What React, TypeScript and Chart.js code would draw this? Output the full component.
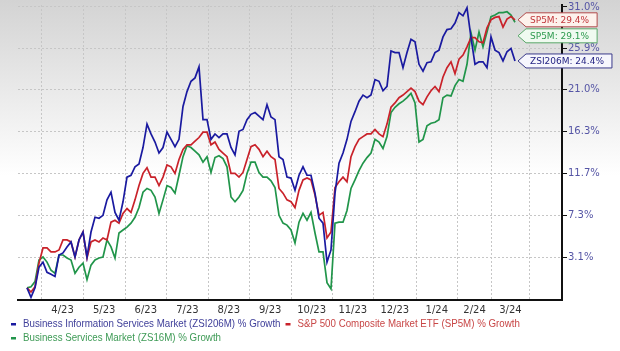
import React, { useEffect, useRef } from "react";
import { Chart, registerables } from "chart.js";

Chart.register(...registerables);

// ---- data (percent growth) ----
const seriesNames = [
  "Business Information Services Market (ZSI206M) % Growth",
  "S&P 500 Composite Market ETF (SP5M) % Growth",
  "Business Services Market (ZS16M) % Growth",
];
const calloutNames = ["ZSI206M", "SP5M", "SP5M"];

const blueGrowth = [
  0.1, -0.8, 0.1, 2.1, 2.6, 1.6, 1.4, 1.2, 3.3, 3.5,
  4.1, 4.6, 3.1, 4.8, 5.6, 3.1, 5.6, 7.1, 7.0, 7.3,
  8.9, 9.7, 7.6, 6.8, 8.7, 11.3, 11.5, 12.4, 12.7,
  14.5, 17.1, 16.0, 15.1, 13.9, 14.5, 16.2, 15.4, 14.6, 15.4,
  19.1, 20.8, 22.0, 22.4, 23.7, 17.6, 17.6, 15.4, 16.0, 15.6,
  16.0, 16.0, 14.5, 13.7, 16.3, 16.5, 17.6, 18.2, 18.4, 18.0,
  17.6, 19.3, 17.9, 17.6, 13.5, 13.2, 11.3, 11.2, 9.9, 11.5,
  12.4, 11.5, 11.5, 9.6, 7.0, 6.5, 2.6, 3.8, 9.6, 12.8,
  13.9, 15.4, 17.4, 18.5, 19.7, 20.4, 20.1, 20.4, 22.2, 22.0,
  20.9, 21.4, 25.6, 25.4, 25.4, 23.6, 25.4, 27.0, 26.7, 24.0,
  23.2, 24.2, 24.3, 25.4, 25.7, 27.3, 28.2, 28.3, 29.0, 30.3,
  29.9, 30.9, 27.2, 24.0, 24.3, 24.3, 23.6, 27.3, 25.7, 25.4,
  24.4, 25.5, 25.9, 24.4,
];

const redGrowth = [
  0.1, -0.3, 0.2, 2.5, 4.0, 4.0, 3.6, 3.6, 3.8, 4.8,
  4.8, 4.6, 3.1, 4.8, 5.6, 3.0, 4.6, 4.8, 4.6, 5.0,
  4.8, 6.6, 6.8, 6.5, 7.5, 8.0, 7.6, 8.9, 10.4,
  11.7, 12.3, 11.3, 11.3, 10.4, 11.3, 12.6, 12.4, 11.7, 13.2,
  14.3, 14.8, 14.8, 15.2, 15.6, 16.2, 16.2, 14.8, 15.1, 14.3,
  13.9, 13.5, 11.7, 11.7, 11.3, 11.8, 13.2, 14.6, 14.8, 14.3,
  13.5, 14.1, 13.5, 13.2, 10.1, 9.6, 8.9, 8.7, 8.1, 9.9,
  11.0, 11.2, 11.0, 9.4, 7.3, 7.6, 5.0, 5.6, 10.2, 10.8,
  11.3, 10.8, 13.5, 14.6, 15.4, 15.7, 16.0, 16.0, 16.5, 16.0,
  15.7, 17.1, 19.0, 19.5, 20.1, 20.4, 20.8, 21.2, 20.8, 19.7,
  19.3, 20.2, 20.9, 21.4, 20.8, 22.5, 23.6, 24.3, 22.9, 24.6,
  25.1, 26.1, 27.2, 27.2, 26.7, 26.6, 28.4, 29.4, 29.7, 29.8,
  28.5, 29.5, 29.8, 29.4,
];

const greenGrowth = [
  0.1, 0.2, 0.7, 2.8, 3.1, 2.6, 1.8, 1.5, 3.3, 3.3,
  3.0, 2.8, 1.5, 2.1, 2.5, 0.9, 2.3, 2.8, 3.0, 3.1,
  4.8, 4.1, 3.0, 5.5, 5.8, 6.1, 6.5, 7.1, 8.1,
  9.7, 10.1, 9.9, 9.2, 7.5, 8.9, 10.4, 10.2, 9.6, 11.5,
  13.5, 14.7, 14.5, 14.1, 13.7, 12.9, 13.5, 11.8, 13.4, 13.6,
  13.3, 12.4, 9.2, 8.7, 9.2, 9.9, 11.7, 12.9, 12.9, 11.8,
  11.3, 11.3, 10.9, 10.2, 7.3, 6.5, 6.3, 5.8, 4.5, 6.6,
  7.5, 6.8, 7.6, 5.5, 3.6, 3.6, 0.6, 0.0, 6.5, 6.6,
  6.6, 7.8, 10.1, 11.0, 12.0, 12.8, 13.4, 13.9, 15.4, 15.1,
  14.4, 15.7, 18.4, 19.0, 19.4, 19.7, 20.1, 20.6, 19.5, 15.1,
  15.4, 16.9, 17.2, 17.3, 17.6, 20.1, 20.4, 20.3, 21.5, 22.2,
  22.0, 24.0, 27.8, 25.7, 27.9, 26.1, 27.9, 29.8, 30.0, 30.3,
  30.3, 30.4, 30.0, 29.1,
];

const yTickValues = [3.1, 7.3, 11.7, 16.3, 21.0, 25.9, 31.0];
const yAxisMinPct = -1.06;
const yAxisMaxPct = 31.25;

// x is a session index; month boundaries and labels along it
const xAxisMin = -2.25;
const xAxisMax = 133.75;
const monthStarts = [3.7, 14.1, 24.5, 34.9, 45.3, 55.6, 66, 76.3, 86.6, 97.3, 107.6, 116.2, 125.5];
const monthLabels = ["4/23", "5/23", "6/23", "7/23", "8/23", "9/23", "10/23", "11/23", "12/23", "1/24", "2/24", "3/24"];

const lineColors = ["#1a1aa0", "#c9222a", "#21954a"];
const legendTextColors = ["#40409a", "#c84646", "#3d9a55"];
const calloutStyles = [
  { text: "#1e1e80", border: "#3a3a8a", fill: "#f6f6fd" },
  { text: "#c0363a", border: "#b04a4a", fill: "#fdf2ec" },
  { text: "#2e9a4e", border: "#5aa86a", fill: "#f0faf0" },
];

const toFactor = (g: number) => 1 + g / 100;

const bgPlugin = {
  id: "bgGradient",
  beforeDraw(chart: any) {
    const { ctx, width, height } = chart;
    ctx.save();
    const g = ctx.createLinearGradient(0, 0, 0, height);
    g.addColorStop(0, "#d3d3d3");
    g.addColorStop(0.5, "#ffffff");
    g.addColorStop(1, "#ffffff");
    ctx.fillStyle = g;
    ctx.fillRect(0, 0, width, height);
    ctx.restore();
  },
};

const calloutPlugin = {
  id: "callouts",
  afterDatasetsDraw(chart: any) {
    const { ctx } = chart;
    const items: any[] = [];
    chart.data.datasets.forEach((ds: any, i: number) => {
      const meta = chart.getDatasetMeta(i);
      const last = meta.data[meta.data.length - 1];
      const val = ds.data[ds.data.length - 1].y;
      const pct = ((val - 1) * 100).toFixed(1) + "%";
      items.push({ i, x: last.x, y: last.y, text: calloutNames[i] + ": " + pct });
    });
    items.sort((a, b) => a.y - b.y);
    const h = 14;
    let prevBottom = -Infinity;
    ctx.save();
    ctx.font = '9px "DejaVu Sans"';
    ctx.textBaseline = "middle";
    items.forEach((it) => {
      let cy = it.y;
      if (cy - h / 2 < prevBottom + 2) cy = prevBottom + 2 + h / 2;
      prevBottom = cy + h / 2;
      const st = calloutStyles[it.i];
      const px = it.x + 3;
      const left = px + 8;
      const tw = ctx.measureText(it.text).width;
      const right = left + 4 + tw + 8;
      const top = cy - h / 2;
      const bot = cy + h / 2;
      ctx.beginPath();
      ctx.moveTo(px, cy);
      ctx.lineTo(left, top);
      ctx.lineTo(right, top);
      ctx.lineTo(right, bot);
      ctx.lineTo(left, bot);
      ctx.closePath();
      ctx.fillStyle = st.fill;
      ctx.fill();
      ctx.lineWidth = 1;
      ctx.strokeStyle = st.border;
      ctx.stroke();
      ctx.fillStyle = st.text;
      ctx.fillText(it.text, left + 4, cy + 0.5);
    });
    ctx.restore();
  },
};

const legendPlugin = {
  id: "customLegend",
  afterDraw(chart: any) {
    const { ctx } = chart;
    const sx = 0.885; // condensed face
    ctx.save();
    ctx.font = '11px "Liberation Sans", sans-serif';
    ctx.textBaseline = "middle";
    let x = 11;
    let y = 324;
    seriesNames.forEach((name, i) => {
      const tw = ctx.measureText(name).width * sx;
      if (x + 12 + tw > 600) {
        x = 11;
        y += 14;
      }
      ctx.fillStyle = lineColors[i];
      ctx.fillRect(x, y - 1, 5, 2.5);
      ctx.fillStyle = legendTextColors[i];
      ctx.save();
      ctx.translate(x + 12, y);
      ctx.scale(sx, 1);
      ctx.fillText(name, 0, 0);
      ctx.restore();
      x = x + 12 + tw + 5;
    });
    ctx.restore();
  },
};

export default function App() {
  const ref = useRef<HTMLCanvasElement>(null);
  useEffect(() => {
    document.body.style.margin = "0";
    const series = [blueGrowth, redGrowth, greenGrowth];
    const chart = new Chart(ref.current as HTMLCanvasElement, {
      type: "line",
      data: {
        datasets: series.map((vals, i) => ({
          label: seriesNames[i],
          data: vals.map((g, k) => ({ x: k, y: toFactor(g) })),
          borderColor: lineColors[i],
          backgroundColor: lineColors[i],
          borderWidth: 1.7,
          pointRadius: 0,
          tension: 0,
          fill: false,
          xAxisID: "x",
          yAxisID: "y",
        })),
      },
      options: {
        animation: false,
        responsive: false,
        devicePixelRatio: 1,
        layout: { padding: { left: 18, top: 5, right: 0, bottom: 0 } },
        plugins: { legend: { display: false }, tooltip: { enabled: false } },
        scales: {
          x: {
            type: "linear",
            position: "bottom",
            min: xAxisMin,
            max: xAxisMax,
            afterBuildTicks: (s: any) => {
              s.ticks = monthStarts.map((v) => ({ value: v }));
            },
            ticks: { display: false },
            grid: { color: "#c6c6c6", lineWidth: 1, drawTicks: false },
            border: { color: "#111", width: 2, dash: [2, 2] },
            afterFit: (s: any) => {
              s.height = 0;
              s.paddingLeft = 0;
              s.paddingRight = 0;
            },
          },
          xl: {
            type: "linear",
            position: "bottom",
            min: xAxisMin,
            max: xAxisMax,
            afterBuildTicks: (s: any) => {
              s.ticks = monthLabels.map((_, k) => ({ value: (monthStarts[k] + monthStarts[k + 1]) / 2 }));
            },
            ticks: {
              autoSkip: false,
              maxRotation: 0,
              padding: 4,
              color: "#333",
              font: { family: "DejaVu Sans", size: 10 },
              callback: (_v: any, idx: number) => monthLabels[idx],
            },
            grid: { display: false, drawTicks: false },
            border: { display: false },
            afterFit: (s: any) => {
              s.height = 51;
              s.paddingLeft = 0;
              s.paddingRight = 0;
            },
          },
          y: {
            type: "logarithmic",
            position: "right",
            min: toFactor(yAxisMinPct),
            max: toFactor(yAxisMaxPct),
            afterBuildTicks: (s: any) => {
              s.ticks = yTickValues.map((v) => ({ value: toFactor(v) }));
            },
            ticks: {
              autoSkip: false,
              padding: 1,
              color: "#5555a5",
              font: { family: "DejaVu Sans", size: 10 },
              callback: (v: any) => ((Number(v) - 1) * 100).toFixed(1) + "%",
            },
            grid: {
              color: "#c6c6c6",
              lineWidth: 1,
              drawTicks: true,
              tickLength: 5,
              tickColor: "#111",
              tickWidth: 1,
              tickBorderDash: [],
            },
            border: { color: "#111", width: 2, dash: [2, 2] },
            afterFit: (s: any) => {
              s.width = 58;
              s.paddingTop = 0;
              s.paddingBottom = 0;
            },
          },
        },
      } as any,
      plugins: [bgPlugin, calloutPlugin, legendPlugin],
    });
    return () => chart.destroy();
  }, []);
  return (
    <div style={{ position: "absolute", left: 0, top: 0, width: 620, height: 351 }}>
      <canvas ref={ref} width={620} height={351} style={{ display: "block", width: 620, height: 351 }} />
    </div>
  );
}
